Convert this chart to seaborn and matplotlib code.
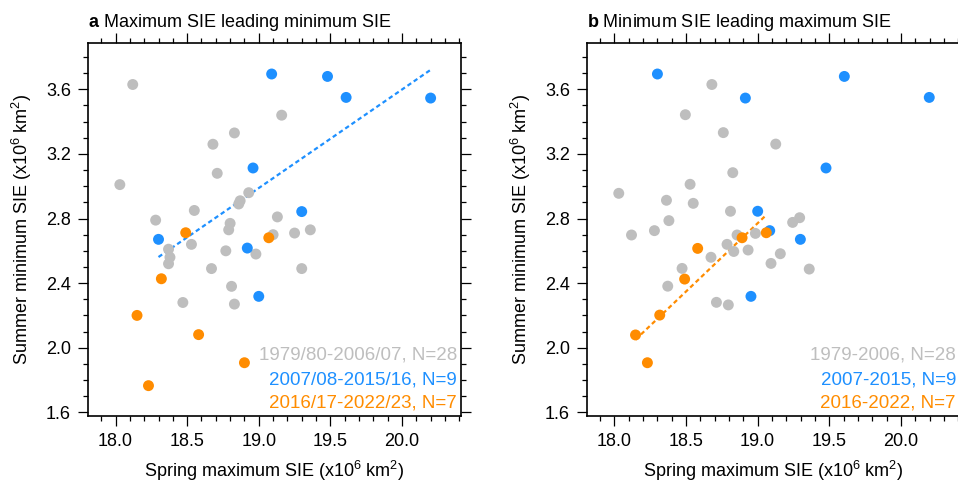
import numpy as np
import pandas as pd
import matplotlib
matplotlib.use("Agg")
import matplotlib.pyplot as plt
from matplotlib.ticker import MultipleLocator
import seaborn as sns

# panel a: spring maximum (x) vs following summer minimum (y)
a_gray_x = [18.12, 18.03, 19.16, 18.83, 18.68, 18.71, 18.93, 18.86, 18.87, 18.55,
            18.28, 19.13, 18.80, 19.36, 19.25, 19.10, 18.79, 18.53, 18.37, 18.38,
            18.37, 18.77, 18.98, 18.67, 19.30, 18.81, 18.47, 18.83]
a_gray_y = [3.63, 3.01, 3.44, 3.33, 3.26, 3.08, 2.96, 2.89, 2.91, 2.85,
            2.79, 2.81, 2.77, 2.73, 2.71, 2.70, 2.73, 2.64, 2.61, 2.56,
            2.52, 2.60, 2.58, 2.49, 2.49, 2.38, 2.28, 2.27]
a_blue_x = [19.09, 19.48, 19.61, 20.20, 18.96, 19.30, 18.30, 18.92, 19.00]
a_blue_y = [3.695, 3.68, 3.55, 3.546, 3.113, 2.843, 2.671, 2.617, 2.318]
a_orange_x = [18.49, 19.07, 18.32, 18.15, 18.58, 18.90, 18.23]
a_orange_y = [2.712, 2.681, 2.427, 2.20, 2.081, 1.907, 1.765]

# panel b: summer minimum (y) vs following spring maximum (x)
b_gray_x = [18.68, 18.495, 18.76, 19.126, 18.826, 18.03, 18.528, 18.363, 18.55, 18.81,
            18.38, 19.293, 19.244, 18.119, 18.279, 18.856, 18.984, 18.786, 18.833, 18.933,
            18.674, 19.158, 19.093, 18.472, 19.36, 18.372, 18.712, 18.795]
b_gray_y = [3.63, 3.443, 3.332, 3.261, 3.084, 2.956, 3.012, 2.913, 2.894, 2.845,
            2.787, 2.805, 2.776, 2.698, 2.725, 2.698, 2.708, 2.64, 2.596, 2.605,
            2.560, 2.582, 2.522, 2.491, 2.487, 2.381, 2.281, 2.265]
b_blue_x = [18.30, 19.605, 18.914, 20.198, 19.477, 19.0, 19.084, 19.298, 18.953]
b_blue_y = [3.695, 3.68, 3.546, 3.55, 3.113, 2.845, 2.725, 2.671, 2.318]
b_orange_x = [18.581, 18.891, 19.06, 18.49, 18.316, 18.147, 18.23]
b_orange_y = [2.615, 2.681, 2.712, 2.425, 2.202, 2.079, 1.907]

a_labels = ["1979/80-2006/07, N=28", "2007/08-2015/16, N=9", "2016/17-2022/23, N=7"]
b_labels = ["1979-2006, N=28", "2007-2015, N=9", "2016-2022, N=7"]
groups = ["p1", "p2", "p3"]
colors = {"p1": "#bebebe", "p2": "#1e90ff", "p3": "#ff8c00"}

sns.set_style("ticks")
plt.rcParams["font.family"] = ["Liberation Sans", "DejaVu Sans"]
plt.rcParams["mathtext.fontset"] = "custom"
plt.rcParams["mathtext.rm"] = "Liberation Sans"
plt.rcParams["mathtext.bf"] = "Liberation Sans:bold"
plt.rcParams["font.size"] = 13
plt.rcParams["text.color"] = "black"
plt.rcParams["axes.labelcolor"] = "black"
plt.rcParams["xtick.color"] = "black"
plt.rcParams["ytick.color"] = "black"

fig = plt.figure(figsize=(9.58, 4.83), dpi=100)
ax_a = fig.add_axes([0.0922, 0.1387, 0.3887, 0.7716])
ax_b = fig.add_axes([0.6130, 0.1387, 0.3887, 0.7716])


def make_df(gx, gy, bx, by, ox, oy):
    parts = []
    for g, xs, ys in zip(groups, [gx, bx, ox], [gy, by, oy]):
        parts.append(pd.DataFrame({"x": xs, "y": ys, "grp": g}))
    return pd.concat(parts, ignore_index=True)


def draw_panel(ax, df, fit_grp, labels, letter, title):
    sns.scatterplot(data=df, x="x", y="y", hue="grp", palette=colors,
                    s=62, linewidth=0, legend=False, ax=ax, zorder=3)
    sub = df[df["grp"] == fit_grp]
    sns.regplot(data=sub, x="x", y="y", scatter=False, ci=None, ax=ax,
                line_kws=dict(color=colors[fit_grp], lw=1.6, dashes=(2, 1.4)))
    ax.set_xlim(17.81, 20.41)
    ax.set_ylim(1.577, 3.885)
    ax.xaxis.set_major_locator(MultipleLocator(0.5))
    ax.xaxis.set_minor_locator(MultipleLocator(0.1))
    ax.yaxis.set_major_locator(MultipleLocator(0.4))
    ax.yaxis.set_minor_locator(MultipleLocator(0.1))
    ax.xaxis.set_major_formatter(matplotlib.ticker.FormatStrFormatter("%.1f"))
    ax.yaxis.set_major_formatter(matplotlib.ticker.FormatStrFormatter("%.1f"))
    ax.tick_params(which="both", direction="out", top=True, right=True,
                   width=0.9, color="black", labelcolor="black", labelsize=13)
    ax.tick_params(which="major", length=7.5, pad=5)
    ax.tick_params(which="minor", length=3.6)
    for sp in ax.spines.values():
        sp.set_visible(True)
        sp.set_linewidth(1.2)
        sp.set_color("black")
    ax.set_xlabel(r"Spring maximum SIE (x10$^{6}$ km$^{2}$)", fontsize=13)
    ax.set_ylabel(r"Summer minimum SIE (x10$^{6}$ km$^{2}$)", fontsize=13)
    ax.xaxis.set_label_coords(0.5, -0.147)
    ax.xaxis.label.set_va("center")
    ax.yaxis.set_label_coords(-0.178, 0.5)
    ax.yaxis.label.set_va("center")
    ax.text(0.0, 1.044, r"$\bf{" + letter + "}$ " + title, transform=ax.transAxes,
            ha="left", va="baseline", fontsize=13)
    for lab, g, yy in zip(labels, groups, [0.164, 0.097, 0.035]):
        ax.text(0.99, yy, lab, color=colors[g], transform=ax.transAxes,
                ha="right", va="center", fontsize=13.5)


df_a = make_df(a_gray_x, a_gray_y, a_blue_x, a_blue_y, a_orange_x, a_orange_y)
df_b = make_df(b_gray_x, b_gray_y, b_blue_x, b_blue_y, b_orange_x, b_orange_y)

draw_panel(ax_a, df_a, "p2", a_labels, "a", "Maximum SIE leading minimum SIE")
draw_panel(ax_b, df_b, "p3", b_labels, "b", "Minimum SIE leading maximum SIE")

fig.savefig("out.png", dpi=100)
